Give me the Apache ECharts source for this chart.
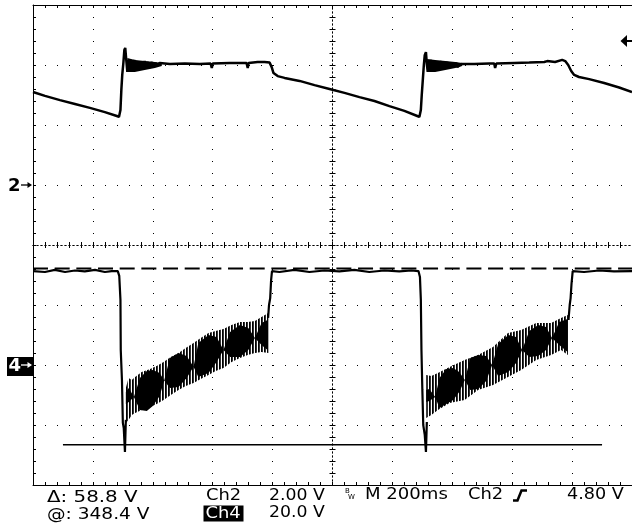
<!DOCTYPE html>
<html><head><meta charset="utf-8">
<script src="https://cdn.jsdelivr.net/npm/echarts@6/dist/echarts.min.js"></script>
<style>html,body{margin:0;padding:0;background:#fff}#c{width:632px;height:529px}</style>
</head><body><div id="c"></div>
<script>
// ---- scope settings ----
const timeRange = [-1000, 1000];      // ms (200 ms/div, 10 div)
const divRange = [-4, 4];             // vertical divisions
const ch2Scale = 2;    // V/div
const ch2Pos = 1;      // ground marker position (div)
const ch4Scale = 20;   // V/div
const ch4Pos = -2;     // ground marker position (div)
const triggerLevel = 4.8; // V on Ch2
const cursorLevels = [32.2, -26.6];   // Ch4 volts (dashed, solid)
const cursorSolidSpan = [-900, 900];  // ms

// ---- Ch2 trace: [time ms, volts] ----
const ch2Trace = [
[-1000,3.10],[-960,2.97],[-910,2.83],[-860,2.70],[-810,2.57],[-760,2.43],[-720,2.30],[-713,2.27],
[-708,2.50],[-705,3.17],[-702,3.67],[-698,4.10],[-695,4.50],[-692,4.57],[-688,4.10],[-685,3.77],
[-682,4.17],[-678,3.80],[-675,4.17],[-672,3.83],[-668,4.13],[-665,3.80],[-662,4.17],[-658,3.87],
[-653,4.13],[-650,3.83],[-645,4.13],[-642,3.90],[-637,4.10],[-633,3.87],[-627,4.13],[-623,3.93],
[-617,4.10],[-612,3.90],[-603,4.10],[-600,3.93],[-590,4.07],[-587,3.97],[-577,4.07],
[-543,4.03],[-493,4.05],[-443,4.03],[-407,4.05],[-403,3.90],[-400,4.05],[-343,4.07],[-287,4.07],[-283,3.90],[-280,4.07],
[-250,4.10],[-227,4.10],[-210,4.08],[-203,3.93],[-197,3.73],[-183,3.63],[-160,3.57],[-110,3.47],[-60,3.33],[-10,3.20],
[40,3.07],[90,2.93],[140,2.80],[190,2.63],[240,2.47],[283,2.30],[290,2.27],
[295,2.50],[298,3.00],[302,3.57],[305,4.00],[308,4.33],[312,4.43],[315,4.03],[318,3.77],
[322,4.13],[325,3.80],[328,4.17],[332,3.83],[337,4.13],[340,3.83],[345,4.13],[348,3.87],[353,4.10],[357,3.87],
[363,4.13],[367,3.90],[373,4.10],[377,3.93],[383,4.10],[388,3.90],[397,4.07],[400,3.97],[413,4.07],[417,3.93],[430,4.03],
[473,4.03],[523,4.05],[540,4.05],[543,3.90],[547,4.05],[607,4.07],[657,4.08],[707,4.10],[717,4.13],[743,4.10],[767,4.17],[777,4.13],
[787,4.00],[797,3.80],[807,3.67],[823,3.60],[857,3.53],[907,3.40],[957,3.25],[1000,3.10]
];
// Ch2 ringing band right after each rising edge: [time ms, upper V, lower V]
const ch2Ring1 = [[-685,4.23,3.77],[-660,4.17,3.77],[-627,4.13,3.83],[-593,4.10,3.90],[-570,4.07,3.97]];
const ch2Ring2 = [[316,4.20,3.77],[343,4.17,3.77],[377,4.13,3.83],[410,4.10,3.90],[433,4.07,3.97]];

// ---- Ch4 trace: [time ms, volts], null = gap (band drawn separately) ----
const ch4Trace = [
[-1000,31.3],[-960,31.0],[-927,31.7],[-893,31.0],[-860,31.5],[-827,31.2],[-793,31.7],[-760,31.0],[-737,31.3],[-717,31.3],
[-712,29.7],[-708,21.7],[-707,5.0],[-703,-5.0],[-700,-19.3],[-697,-21.0],[-693,-29.0],[-690,-18.3],
[-450,null],
[-215,15.7],[-212,20.0],[-208,22.3],[-205,28.3],[-202,31.3],[-177,31.0],[-127,31.7],[-77,31.0],[-27,31.5],
[23,31.2],[73,31.7],[123,31.0],[173,31.5],[223,31.2],[263,31.5],[287,31.3],
[292,29.3],[295,21.7],[297,5.0],[300,-8.3],[303,-20.0],[308,-23.3],[312,-29.0],[315,-19.0],
[550,null],
[788,15.0],[792,20.0],[795,22.3],[798,27.0],[802,31.3],[840,31.0],[890,31.5],[940,31.2],[1000,31.3]
];

// ---- Ch4 ringing band envelopes: [time ms, upper V, lower V] ----
const ch4RingOuter1 = [
[-690,-7.7,-19.3],[-681,-4.3,-18.3],[-670,-5.0,-16.7],[-659,-4.0,-16.0],[-637,-2.3,-15.0],[-609,-1.3,-14.0],
[-587,-0.3,-13.0],[-564,1.0,-11.7],[-540,2.7,-10.0],[-514,4.0,-8.3],[-490,5.7,-7.0],[-464,7.3,-6.0],
[-440,9.0,-4.7],[-414,10.7,-3.3],[-390,11.3,-2.0],[-364,12.0,-1.0],[-337,13.3,1.0],[-309,14.3,2.3],
[-283,14.3,3.3],[-259,14.7,4.0],[-237,16.0,4.3],[-214,17.3,4.0]
];
const ch4RingInner1 = [
[-690,-9.0,-13.0],[-680,-7.7,-12.3],[-663,-10.7,-10.7],[-643,-4.3,-15.0],[-620,-2.0,-15.3],[-600,-1.7,-13.7],
[-577,-2.7,-10.3],[-562,-5.2,-5.2],[-543,2.3,-7.7],[-514,4.0,-7.3],[-487,3.0,-4.3],[-464,-0.6,-0.6],
[-448,7.3,-4.0],[-414,10.0,-2.7],[-387,9.3,1.0],[-364,5.0,5.0],[-342,11.0,2.7],[-309,13.3,2.7],
[-281,12.3,5.0],[-259,9.0,9.0],[-237,14.0,6.7],[-217,15.0,5.0]
];
const ch4RingOuter2 = [
[313,-3.3,-17.7],[330,-3.7,-16.7],[352,-2.7,-15.0],[391,-0.7,-12.7],[441,1.7,-11.7],[486,3.3,-8.3],
[536,6.0,-6.7],[586,10.7,-4.0],[630,11.7,-1.7],[680,14.0,1.7],[730,14.0,3.3],[763,15.7,5.0],[786,16.7,3.3]
];
const ch4RingInner2 = [
[313,-8.3,-12.3],[323,-8.0,-12.0],[343,-10.7,-10.7],[357,-4.3,-14.3],[380,-1.3,-13.0],[403,-1.0,-11.7],
[423,-2.3,-9.0],[442,-5.0,-5.0],[460,2.3,-8.3],[487,3.3,-8.0],[513,3.0,-5.3],[533,0,0],
[553,7.0,-3.7],[587,10.0,-2.3],[613,9.3,0.7],[633,5.0,5.0],[657,11.3,2.7],[687,13.3,3.0],
[713,12.7,5.0],[733,9.0,9.0],[757,14.3,6.7],[785,15.3,4.3]
];

// ---- readout texts ----
const readoutCursor = ['Δ: 58.8 V', '@: 348.4 V'];
const readoutChannels = ['Ch2', 'Ch4'];
const readoutScales = ['2.00 V', '20.0 V'];
const readoutTime = 'M 200ms';
const readoutTrigSrc = 'Ch2';
const readoutTrigLevel = '4.80 V';
const channelMarks = ['2', '4'];

// ---- build ----
const toDiv2 = v => ch2Pos + v / ch2Scale;
const toDiv4 = v => v == null ? '-' : ch4Pos + v / ch4Scale;

const stripe = document.createElement('canvas');
stripe.width = 3; stripe.height = 4;
(function(){const g = stripe.getContext('2d');
 g.fillStyle = '#fff'; g.fillRect(0,0,3,4);
 g.fillStyle = '#000'; g.fillRect(0,0,1,4);
 g.fillStyle = '#333'; g.fillRect(1,0,1,4);})();

function band(data, conv, fill, z) {
  return {
    type: 'custom', xAxisIndex: 0, yAxisIndex: 0, z: z, silent: true,
    data: data.map(d => [d[0], conv(d[1]), conv(d[2])]),
    encode: {x: 0, y: [1, 2]},
    renderItem: function (params, api) {
      if (params.dataIndexInside !== 0) return;
      const n = params.dataInsideLength, top = [], bot = [];
      for (let i = 0; i < n; i++) {
        const t = api.value(0, i);
        top.push(api.coord([t, api.value(1, i)]));
        bot.push(api.coord([t, api.value(2, i)]));
      }
      return {type: 'polygon', shape: {points: top.concat(bot.reverse())}, style: {fill: fill, stroke: null}};
    }
  };
}

const K = '#000';
const border = (pos) => ({
  type: 'value', min: timeRange[0], max: timeRange[1], interval: 200, position: pos,
  axisLine: {show: true, onZero: false, lineStyle: {color: K, width: 1}},
  axisTick: {show: true, inside: true, length: 3, lineStyle: {color: K}},
  minorTick: {show: true, splitNumber: 5, length: 3, lineStyle: {color: K}},
  axisLabel: {show: false}, splitLine: {show: false}
});
const xBottom = border('bottom');
xBottom.splitLine = {show: true, lineStyle: {color: K, width: 1, type: [1, 11]}};
const xTop = border('top');
const xCenter = (inside) => ({
  type: 'value', min: timeRange[0], max: timeRange[1], interval: 200, position: 'bottom',
  axisLine: {show: true, onZero: true, onZeroAxisIndex: 0, lineStyle: {color: K, width: 1, type: [1, 3]}},
  axisTick: {show: true, inside: inside, length: 3, lineStyle: {color: K}},
  minorTick: {show: true, splitNumber: 5, length: 3, lineStyle: {color: K}},
  axisLabel: {show: false}, splitLine: {show: false}
});
const yLeft = {
  type: 'value', min: divRange[0], max: divRange[1], interval: 1, position: 'left',
  axisLine: {show: true, onZero: false, lineStyle: {color: K, width: 1}},
  axisTick: {show: true, inside: true, length: 3, lineStyle: {color: K}},
  minorTick: {show: true, splitNumber: 5, length: 3, lineStyle: {color: K}},
  axisLabel: {show: false},
  splitLine: {show: true, lineStyle: {color: K, width: 1, type: [1, 11]}}
};
const yCenter = (inside) => ({
  type: 'value', min: divRange[0], max: divRange[1], interval: 1, position: 'left',
  axisLine: {show: true, onZero: true, onZeroAxisIndex: 0, lineStyle: {color: K, width: 1, type: [1, 3]}},
  axisTick: {show: true, inside: inside, length: 3, lineStyle: {color: K}},
  minorTick: {show: true, splitNumber: 5, length: 3, lineStyle: {color: K}},
  axisLabel: {show: false}, splitLine: {show: false}
});

const chart = echarts.init(document.getElementById('c'), null, {renderer: 'canvas'});
chart.setOption({
  animation: false,
  backgroundColor: '#fff',
  grid: {left: 33, top: 5, width: 600, height: 480, containLabel: false},
  xAxis: [xBottom, xTop, xCenter(true), xCenter(false)],
  yAxis: [yLeft, yCenter(true), yCenter(false)],
  series: [
    {type: 'line', z: 1, silent: true, showSymbol: false, xAxisIndex: 0, yAxisIndex: 0,
     data: [[timeRange[0], toDiv4(cursorLevels[0])], [timeRange[1], toDiv4(cursorLevels[0])]],
     lineStyle: {color: K, width: 2, type: [15, 6.67]}},
    {type: 'line', z: 1, silent: true, showSymbol: false, xAxisIndex: 0, yAxisIndex: 0,
     data: [[cursorSolidSpan[0], toDiv4(cursorLevels[1])], [cursorSolidSpan[1], toDiv4(cursorLevels[1])]],
     lineStyle: {color: K, width: 1.5}},
    band(ch4RingOuter1, toDiv4, {image: stripe, repeat: 'repeat'}, 2),
    band(ch4RingOuter2, toDiv4, {image: stripe, repeat: 'repeat'}, 2),
    band(ch4RingInner1, toDiv4, K, 3),
    band(ch4RingInner2, toDiv4, K, 3),
    band(ch2Ring1, toDiv2, K, 3),
    band(ch2Ring2, toDiv2, K, 3),
    {type: 'line', z: 4, silent: true, showSymbol: false, connectNulls: false, xAxisIndex: 0, yAxisIndex: 0,
     data: ch4Trace.map(d => [d[0], toDiv4(d[1])]), lineStyle: {color: K, width: 2.2}},
    {type: 'line', z: 4, silent: true, showSymbol: false, xAxisIndex: 0, yAxisIndex: 0,
     data: ch2Trace.map(d => [d[0], toDiv2(d[1])]), lineStyle: {color: K, width: 2.5}}
  ]
});

// ---- markers and readout ----
const FONT = '16px "DejaVu Sans"';
const SX = 1.12;
const gfx = [];
function txt(x, y, s, o) {
  o = o || {};
  gfx.push({type: 'text', x: x, y: y, scaleX: o.sx || SX, silent: true, z: 100,
    style: {text: s, x: 0, y: 0, font: o.font || FONT, fill: o.fill || K, align: 'left', verticalAlign: 'middle'}});
}
const y2 = chart.convertToPixel({yAxisIndex: 0}, ch2Pos);
const y4 = chart.convertToPixel({yAxisIndex: 0}, ch4Pos);
const yT = chart.convertToPixel({yAxisIndex: 0}, toDiv2(triggerLevel));
function arrow(x0, x1, y, col) {
  gfx.push({type: 'line', silent: true, z: 100, shape: {x1: x0, y1: y, x2: x1 - 2, y2: y}, style: {stroke: col, lineWidth: 1.3}});
  gfx.push({type: 'polygon', silent: true, z: 100, shape: {points: [[x1 - 4.5, y - 3], [x1, y], [x1 - 4.5, y + 3]]}, style: {fill: col}});
}
txt(8, y2 + 1, channelMarks[0], {font: 'bold 18px "DejaVu Sans"', sx: 1});
arrow(21, 32, y2, K);
gfx.push({type: 'rect', silent: true, z: 99, shape: {x: 7, y: y4 - 8, width: 26, height: 19}, style: {fill: K}});
txt(8.5, y4 + 1.5, channelMarks[1], {font: 'bold 18px "DejaVu Sans"', sx: 1, fill: '#fff'});
arrow(21, 32, y4, '#fff');
// trigger level marker (right edge)
gfx.push({type: 'polygon', silent: true, z: 100, shape: {points: [[620.5, yT], [627, yT - 6], [627, yT + 6]]}, style: {fill: K}});
gfx.push({type: 'line', silent: true, z: 100, shape: {x1: 626, y1: yT, x2: 632, y2: yT}, style: {stroke: K, lineWidth: 2}});

txt(47, 498, readoutCursor[0], {sx: 1.24});
txt(47, 514.5, readoutCursor[1], {sx: 1.16});
txt(206, 496, readoutChannels[0]);
gfx.push({type: 'rect', silent: true, z: 99, shape: {x: 203.5, y: 505.5, width: 40, height: 16}, style: {fill: K}});
txt(205.5, 513.5, readoutChannels[1], {fill: '#fff'});
txt(269, 496, readoutScales[0], {sx: 1.08});
txt(269, 512.5, readoutScales[1], {sx: 1.08});
txt(345, 491, 'B', {font: '7px "DejaVu Sans"', sx: 1});
txt(348, 497, 'W', {font: '7px "DejaVu Sans"', sx: 1});
txt(365, 495, readoutTime, {sx: 1.13});
txt(468, 495, readoutTrigSrc);
gfx.push({type: 'polyline', silent: true, z: 100, shape: {points: [[513, 500.5], [517.5, 500.5], [521.5, 490.5], [527, 490.5]]},
  style: {stroke: K, lineWidth: 2.5, fill: null}});
txt(567, 495, readoutTrigLevel, {sx: 1.1});
chart.setOption({graphic: {elements: gfx}});
</script>
</body></html>
